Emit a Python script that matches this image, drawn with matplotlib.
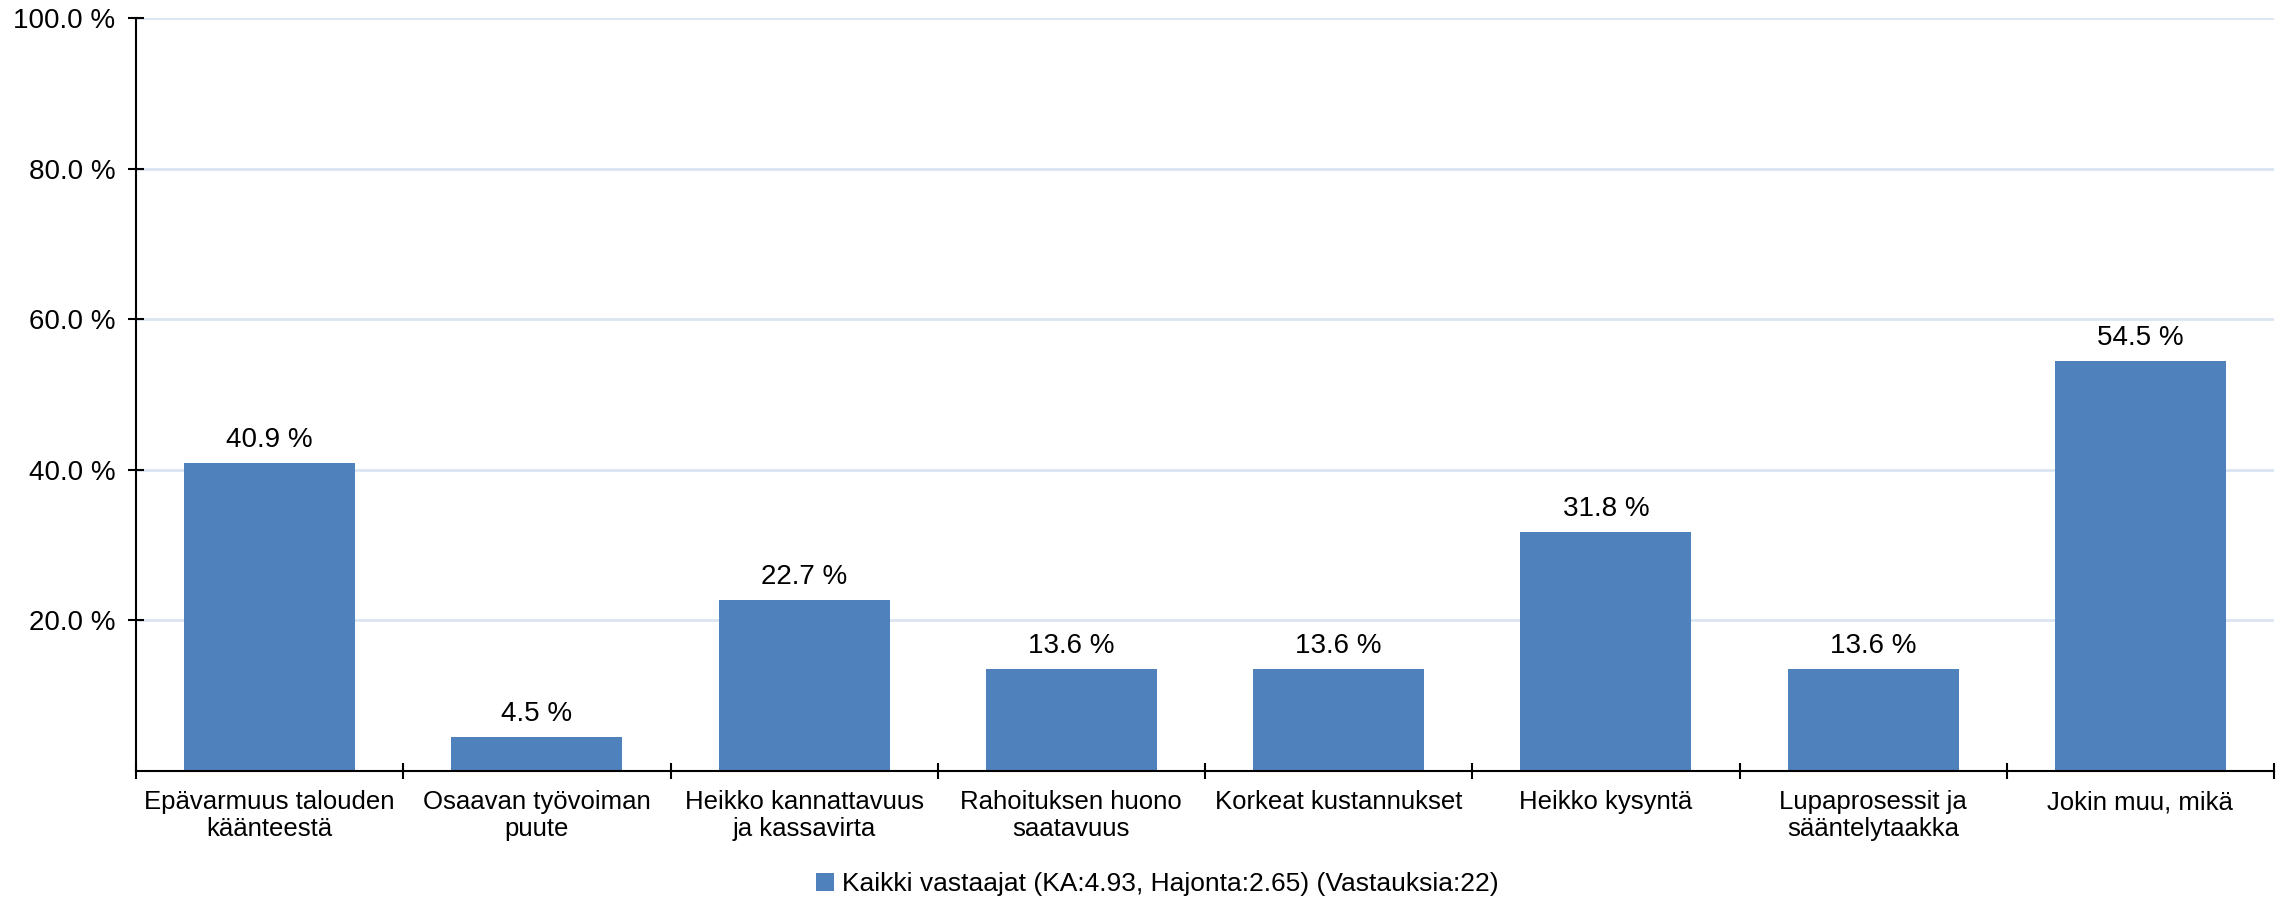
import matplotlib
matplotlib.use("Agg")
import matplotlib.pyplot as plt
from matplotlib.patches import Patch

# data
categories = [
    "Epävarmuus talouden\nkäänteestä",
    "Osaavan työvoiman\npuute",
    "Heikko kannattavuus\nja kassavirta",
    "Rahoituksen huono\nsaatavuus",
    "Korkeat kustannukset",
    "Heikko kysyntä",
    "Lupaprosessit ja\nsääntelytaakka",
    "Jokin muu, mikä",
]
values = [40.9, 4.5, 22.7, 13.6, 13.6, 31.8, 13.6, 54.5]
y_ticks = [20, 40, 60, 80, 100]
series_name = "Kaikki vastaajat (KA:4.93, Hajonta:2.65) (Vastauksia:22)"

bar_color = "#4f81bd"
grid_color = "#dbe5f1"

plt.rcParams["font.family"] = ["Liberation Sans", "DejaVu Sans"]
plt.rcParams["font.size"] = 20

fig = plt.figure(figsize=(22.83, 9.05), dpi=100)
ax = fig.add_axes([136 / 2283, 1 - 771 / 905, (2274 - 136) / 2283, (771 - 18) / 905])

x = list(range(len(categories)))
bars = ax.bar(x, values, width=0.64, color=bar_color, zorder=3)
ax.bar_label(bars, labels=[f"{v:.1f} %" for v in values], padding=7, fontsize=20)

ax.set_xlim(-0.5, len(categories) - 0.5)
ax.set_ylim(0, 100)

# y axis
ax.set_yticks(y_ticks)
ax.set_yticklabels([f"{t:.1f} %" for t in y_ticks])
ax.yaxis.grid(True, color=grid_color, linewidth=2, zorder=0)
ax.tick_params(axis="y", direction="inout", length=12, width=1.5, pad=9)

# x axis: ticks sit between the categories, labels centered under bars
ax.set_xticks([i - 0.5 for i in range(len(categories) + 1)])
ax.set_xticklabels([])
ax.set_xticks(x, minor=True)
ax.set_xticklabels(categories, minor=True, linespacing=1.15, fontsize=18.5)
ax.tick_params(axis="x", which="major", direction="inout", length=12, width=1.5)
ax.tick_params(axis="x", which="minor", length=0, pad=14)

for side in ["top", "right"]:
    ax.spines[side].set_visible(False)
for side in ["left", "bottom"]:
    ax.spines[side].set_linewidth(1.5)
    ax.spines[side].set_zorder(4)

handle = Patch(facecolor=bar_color, edgecolor="none")
fig.legend([handle], [series_name], loc="center", bbox_to_anchor=(0.507, 1 - 884 / 905),
           frameon=False, handlelength=0.7, handleheight=0.7, handletextpad=0.3, fontsize=19)

fig.savefig("out.png", dpi=100)
